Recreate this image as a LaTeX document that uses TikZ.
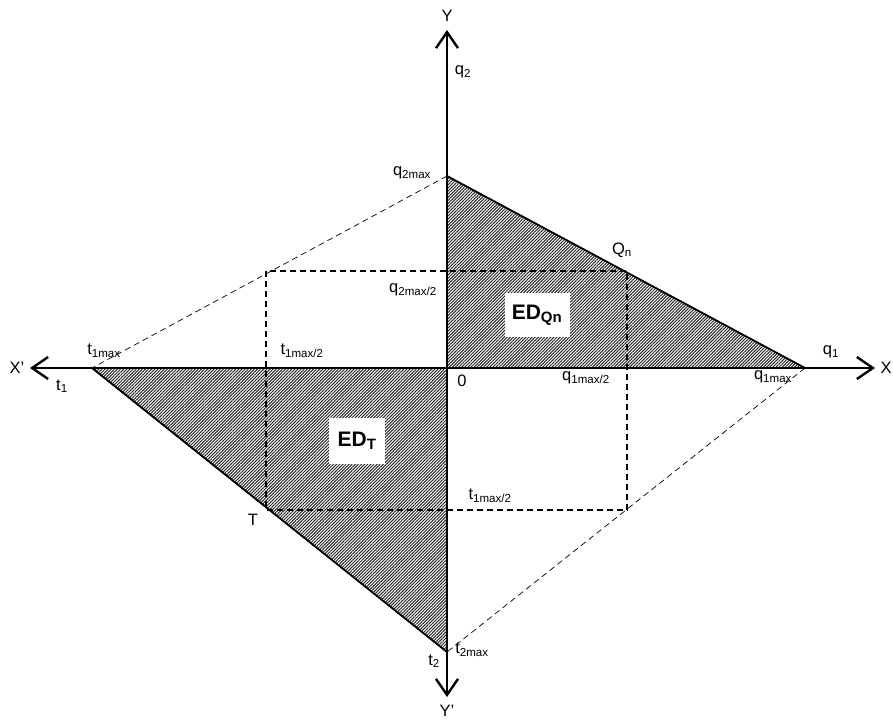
\documentclass[tikz,border=0pt]{standalone}
\usepackage{fontspec}
\setmainfont{Liberation Sans}
\usetikzlibrary{arrows.meta,patterns.meta}
\begin{document}
\begin{tikzpicture}[x=1pt,y=-1pt,
  axis/.style={line width=2.8pt,-{Straight Barb[length=16pt,width=22pt,line width=2.4pt]}},
  hatch/.style={pattern={Lines[angle=45,distance=2.2pt,line width=1pt]},pattern color=black!85},
  edge/.style={line width=1.8pt},
  rectdash/.style={line width=1.6pt,dash pattern=on 6pt off 4pt},
  thindash/.style={line width=0.7pt,dash pattern=on 6pt off 4pt},
  lbl/.style={inner sep=1pt,font=\fontsize{16.5}{19}\selectfont},
  edbox/.style={fill=white,inner sep=0pt,font=\bfseries\fontsize{21}{23}\selectfont}]
\useasboundingbox (0,0) rectangle (893,720);
\coordinate (O) at (447,368);
\coordinate (Q2m) at (447,176);
\coordinate (Q1m) at (805,368);
\coordinate (T1m) at (92,368);
\coordinate (T2m) at (447,652);
\coordinate (Qn) at (627,271);
\coordinate (Tp) at (266,510);
\coordinate (R1) at (266,271);
\coordinate (R2) at (627,510);
\coordinate (Xe) at (875,368);
\coordinate (Xw) at (30,368);
\coordinate (Ys) at (447,30);
\coordinate (Yn) at (447,697);
% shaded triangles
\fill[hatch] (Q2m) -- (Q1m) -- (O) -- cycle;
\fill[hatch] (T1m) -- (O) -- (T2m) -- cycle;
\draw[edge] (Q2m) -- (Q1m);
\draw[edge] (T1m) -- (T2m);
\draw[line width=0.6pt] ([yshift=0.5pt]T1m) -- ([xshift=4pt]Tp);
% dashed lines
\draw[thindash] (Q2m) -- (T1m);
\draw[thindash] (Q1m) -- (T2m);
\draw[rectdash] (R1) rectangle (R2);
% axes
\draw[axis] (O) -- (Xe);
\draw[axis] (O) -- (Xw);
\draw[axis] (O) -- (Ys);
\draw[axis] (O) -- (Yn);
% boxes
\node[edbox,minimum width=65pt,minimum height=44pt] (edq) at (537,315) {ED\textsubscript{\fontsize{15}{17}\selectfont Qn}};
\node[edbox,minimum width=56pt,minimum height=46pt] (edt) at (357,441) {ED\textsubscript{\fontsize{15}{17}\selectfont T}};
% labels
\node[lbl] (lY) at (447,16) {Y};
\node[lbl] (lYp) at (447,711) {Y'};
\node[lbl] (lX) at (886,368) {X};
\node[lbl] (lXp) at (17,368) {X'};
\node[lbl] (lq2) at (463,72) {q\textsubscript{2}};
\node[lbl] (lq1) at (831,352) {q\textsubscript{1}};
\node[lbl] (lt1) at (62,386) {t\textsubscript{1}};
\node[lbl] (lt2) at (434,661) {t\textsubscript{2}};
\node[lbl] (lq2m) at (412,173) {q\textsubscript{2max}};
\node[lbl] (lq2h) at (413,290) {q\textsubscript{2max/2}};
\node[lbl] (lQn) at (622,250) {Q\textsubscript{n}};
\node[lbl] (lt1m) at (104,351) {t\textsubscript{1max}};
\node[lbl] (lt1h) at (302,351) {t\textsubscript{1max/2}};
\node[lbl] (l0) at (462,381) {0};
\node[lbl] (lq1h) at (586,378) {q\textsubscript{1max/2}};
\node[lbl] (lq1m) at (773,377) {q\textsubscript{1max}};
\node[lbl] (lT) at (253,520) {T};
\node[lbl] (lt1h2) at (490,496) {t\textsubscript{1max/2}};
\node[lbl] (lt2m) at (472,650) {t\textsubscript{2max}};
\end{tikzpicture}
\end{document}
